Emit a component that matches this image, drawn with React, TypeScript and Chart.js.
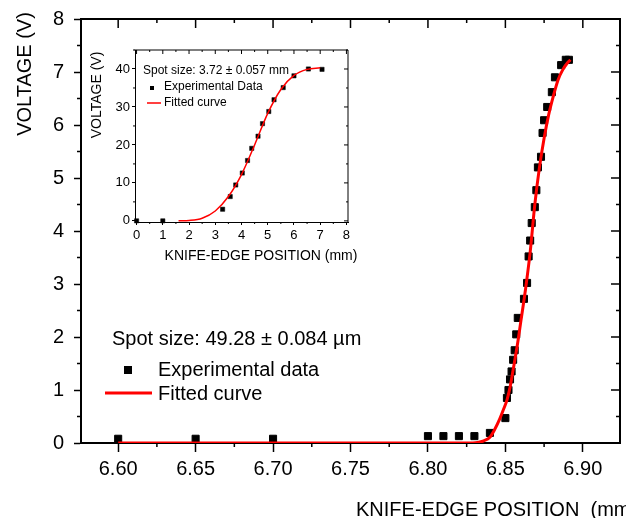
import React, { useEffect, useRef } from "react";
import { Chart, registerables } from "chart.js";

Chart.register(...registerables);

const FONT = "'Liberation Sans', Arial, Helvetica, sans-serif";

// ---------- main chart data ----------
const mainExpX = [
  6.6, 6.65, 6.7, 6.8, 6.81, 6.82, 6.83, 6.84, 6.85, 6.851, 6.852, 6.853, 6.854,
  6.855, 6.856, 6.857, 6.858, 6.862, 6.864, 6.865, 6.866, 6.867, 6.869, 6.870,
  6.871, 6.873, 6.874, 6.875, 6.877, 6.880, 6.882, 6.886, 6.889, 6.891,
];
const mainExpY = [
  0.08, 0.08, 0.08, 0.13, 0.13, 0.13, 0.13, 0.19, 0.47, 0.85, 1.0, 1.2, 1.35,
  1.57, 1.75, 2.05, 2.36, 2.72, 3.02, 3.52, 3.82, 4.15, 4.45, 4.77,
  5.2, 5.4, 5.85, 6.09, 6.34, 6.62, 6.9, 7.13, 7.23, 7.23,
];
const mainFitX = [
  6.6, 6.65, 6.7, 6.75, 6.8, 6.825, 6.832, 6.836, 6.84, 6.843, 6.846, 6.849,
  6.851, 6.853, 6.855, 6.858, 6.86, 6.863, 6.866, 6.869, 6.872, 6.875, 6.878,
  6.881, 6.884, 6.887, 6.89, 6.892,
];
const mainFitY = [
  0, 0, 0, 0, 0, 0, 0.01, 0.04, 0.11, 0.25, 0.43, 0.65,
  0.81, 1.05, 1.38, 1.9, 2.3, 2.9, 3.6, 4.5, 5.2, 5.75, 6.2,
  6.55, 6.85, 7.04, 7.17, 7.23,
];
const mainXTicks = [6.6, 6.65, 6.7, 6.75, 6.8, 6.85, 6.9];
const mainYTicks = [0, 1, 2, 3, 4, 5, 6, 7, 8];

// ---------- inset data ----------
const insetExpX = [0, 1, 3.28, 3.57, 3.78, 4.03, 4.23, 4.39, 4.63, 4.8, 5.04, 5.24, 5.59, 6.0, 6.55, 7.07];
const insetExpY = [0, 0, 3.06, 6.4, 9.45, 12.6, 15.9, 19.1, 22.3, 25.6, 28.8, 31.9, 35.1, 38.2, 40.0, 39.9];
const insetFitX = [1.6, 2.0, 2.5, 3.0, 3.5, 4.0, 4.5, 5.0, 5.5, 6.0, 6.5, 7.0];
const insetFitY = [0, 0.1, 0.7, 2.6, 6.4, 12.2, 20.0, 28.3, 34.6, 38.3, 39.9, 40.3];
const insetXTicks = [0, 1, 2, 3, 4, 5, 6, 7, 8];
const insetYTicks = [0, 10, 20, 30, 40];

// ---------- texts ----------
const mainXTitle = "KNIFE-EDGE POSITION  (mm)";
const mainYTitle = "VOLTAGE (V)";
const mainSpot = "Spot size: 49.28 \u00B1 0.084 \u00B5m";
const mainExpLabel = "Experimental data";
const mainFitLabel = "Fitted curve";
const insetXTitle = "KNIFE-EDGE POSITION (mm)";
const insetYTitle = "VOLTAGE (V)";
const insetSpot = "Spot size: 3.72 \u00B1 0.057 mm";
const insetExpLabel = "Experimental Data";
const insetFitLabel = "Fitted curve";

const pts = (xs: number[], ys: number[]) => xs.map((x, i) => ({ x, y: ys[i] }));

function minorValues(majors: number[], min: number, max: number) {
  const step = majors[1] - majors[0];
  const out: number[] = [];
  for (let v = majors[0] - step / 2; v >= min; v -= step) out.push(v);
  for (let i = 0; i < majors.length - 1; i++) out.push((majors[i] + majors[i + 1]) / 2);
  for (let v = majors[majors.length - 1] + step / 2; v <= max; v += step) out.push(v);
  return out;
}

type DecorCfg = {
  id: string;
  frameWidth: number;
  tickWidth: number;
  major: number;
  minor: number;
  xTicks: number[];
  yTicks: number[];
  draw: (ctx: CanvasRenderingContext2D, chart: any) => void;
};

function makeDecor(cfg: DecorCfg) {
  return {
    id: cfg.id,
    afterDraw(chart: any) {
      const { ctx, chartArea: a } = chart;
      const xs = chart.scales.x;
      const ys = chart.scales.y;
      ctx.save();
      ctx.strokeStyle = "#000";
      ctx.lineWidth = cfg.frameWidth;
      ctx.beginPath();
      ctx.moveTo(a.left - cfg.frameWidth / 2, a.top);
      ctx.lineTo(a.right, a.top);
      ctx.lineTo(a.right, a.bottom + cfg.frameWidth / 2);
      ctx.stroke();

      ctx.lineWidth = cfg.tickWidth;
      ctx.beginPath();
      const xMin = minorValues(cfg.xTicks, xs.min, xs.max);
      const yMin = minorValues(cfg.yTicks, ys.min, ys.max);
      for (const v of cfg.xTicks) {
        const p = xs.getPixelForValue(v);
        ctx.moveTo(p, a.top);
        ctx.lineTo(p, a.top + cfg.major);
      }
      for (const v of xMin) {
        const p = xs.getPixelForValue(v);
        ctx.moveTo(p, a.top);
        ctx.lineTo(p, a.top + cfg.minor);
        ctx.moveTo(p, a.bottom);
        ctx.lineTo(p, a.bottom + cfg.minor);
      }
      for (const v of cfg.yTicks) {
        const p = ys.getPixelForValue(v);
        ctx.moveTo(a.right, p);
        ctx.lineTo(a.right - cfg.major, p);
      }
      for (const v of yMin) {
        const p = ys.getPixelForValue(v);
        ctx.moveTo(a.right, p);
        ctx.lineTo(a.right - cfg.minor, p);
        ctx.moveTo(a.left, p);
        ctx.lineTo(a.left - cfg.minor, p);
      }
      ctx.stroke();
      cfg.draw(ctx, chart);
      ctx.restore();
    },
  };
}

const fixTicks = (vals: number[]) => (s: any) => {
  s.ticks = vals.map((v) => ({ value: v }));
};
const noPad = (s: any) => {
  s.paddingTop = 0;
  s.paddingBottom = 0;
  s.paddingLeft = 0;
  s.paddingRight = 0;
};

export default function App() {
  const mainRef = useRef<HTMLCanvasElement>(null);
  const insetRef = useRef<HTMLCanvasElement>(null);

  useEffect(() => {
    const mainDecor = makeDecor({
      id: "mainDecor",
      frameWidth: 2,
      tickWidth: 1.5,
      major: 9,
      minor: 4,
      xTicks: mainXTicks,
      yTicks: mainYTicks,
      draw: (ctx) => {
        ctx.fillStyle = "#000";
        ctx.font = `20px ${FONT}`;
        ctx.textBaseline = "alphabetic";
        ctx.textAlign = "left";
        ctx.fillText(mainXTitle, 356, 516);
        ctx.fillText(mainSpot, 112, 345);
        ctx.fillText(mainExpLabel, 158, 376);
        ctx.fillText(mainFitLabel, 158, 400);
        ctx.fillRect(124, 366, 8, 8);
        ctx.strokeStyle = "#ff0000";
        ctx.lineWidth = 3;
        ctx.beginPath();
        ctx.moveTo(105, 393);
        ctx.lineTo(152, 393);
        ctx.stroke();
        ctx.save();
        ctx.translate(25, 74);
        ctx.rotate(-Math.PI / 2);
        ctx.textAlign = "center";
        ctx.textBaseline = "middle";
        ctx.fillText(mainYTitle, 0, 0);
        ctx.restore();
      },
    });

    const main = new Chart(mainRef.current as HTMLCanvasElement, {
      type: "scatter",
      data: {
        datasets: [
          {
            type: "line",
            label: mainFitLabel,
            data: pts(mainFitX, mainFitY),
            borderColor: "#ff0000",
            backgroundColor: "#ff0000",
            borderWidth: 3,
            pointRadius: 0,
            cubicInterpolationMode: "monotone",
            fill: false,
            order: 0,
          } as any,
          {
            label: mainExpLabel,
            data: pts(mainExpX, mainExpY),
            pointStyle: "rect",
            pointRadius: 5,
            backgroundColor: "#000",
            borderColor: "#000",
            borderWidth: 1,
            clip: false,
            order: 1,
          } as any,
        ],
      },
      options: {
        responsive: false,
        animation: false,
        events: [],
        layout: { padding: { left: 0, top: 19, right: 1, bottom: 0 } },
        plugins: { legend: { display: false }, tooltip: { enabled: false } },
        scales: {
          x: {
            type: "linear",
            min: 6.576,
            max: 6.924,
            afterBuildTicks: fixTicks(mainXTicks),
            afterFit: (s: any) => {
              s.height = 75;
              noPad(s);
            },
            border: { display: true, color: "#000", width: 2 },
            grid: { display: true, drawOnChartArea: false, drawTicks: true, tickLength: 9, tickColor: "#000", tickWidth: 1.5 },
            ticks: {
              color: "#000",
              font: { family: FONT, size: 20 },
              padding: 5,
              maxRotation: 0,
              autoSkip: false,
              callback: (v: any) => Number(v).toFixed(2),
            },
          },
          y: {
            type: "linear",
            min: 0,
            max: 8,
            afterBuildTicks: fixTicks(mainYTicks),
            afterFit: (s: any) => {
              s.width = 81;
              noPad(s);
            },
            border: { display: true, color: "#000", width: 2 },
            grid: { display: true, drawOnChartArea: false, drawTicks: true, tickLength: 7, tickColor: "#000", tickWidth: 1.5 },
            ticks: {
              color: "#000",
              font: { family: FONT, size: 20 },
              padding: 10,
              autoSkip: false,
              callback: (v: any) => String(Math.round(Number(v))),
            },
          },
        },
      },
      plugins: [mainDecor],
    } as any);

    const OX = 85;
    const OY = 35;
    const insetDecor = makeDecor({
      id: "insetDecor",
      frameWidth: 1,
      tickWidth: 1,
      major: 4,
      minor: 2,
      xTicks: insetXTicks,
      yTicks: insetYTicks,
      draw: (ctx) => {
        ctx.fillStyle = "#000";
        ctx.textAlign = "left";
        ctx.textBaseline = "middle";
        ctx.font = `12px ${FONT}`;
        ctx.fillText(insetSpot, 143 - OX, 71 - OY);
        ctx.fillText(insetExpLabel, 164 - OX, 87 - OY);
        ctx.fillText(insetFitLabel, 164 - OX, 103 - OY);
        ctx.fillRect(150 - OX, 86 - OY, 4, 4);
        ctx.strokeStyle = "#ff0000";
        ctx.lineWidth = 1.5;
        ctx.beginPath();
        ctx.moveTo(147 - OX, 103 - OY);
        ctx.lineTo(161 - OX, 103 - OY);
        ctx.stroke();
        ctx.font = `14px ${FONT}`;
        ctx.textAlign = "center";
        ctx.fillText(insetXTitle, 261 - OX, 256 - OY);
        ctx.save();
        ctx.translate(97 - OX, 95 - OY);
        ctx.rotate(-Math.PI / 2);
        ctx.fillText(insetYTitle, 0, 0);
        ctx.restore();
      },
    });

    const inset = new Chart(insetRef.current as HTMLCanvasElement, {
      type: "scatter",
      data: {
        datasets: [
          {
            type: "line",
            label: insetFitLabel,
            data: pts(insetFitX, insetFitY),
            borderColor: "#ff0000",
            borderWidth: 1.5,
            pointRadius: 0,
            cubicInterpolationMode: "monotone",
            fill: false,
            order: 0,
          } as any,
          {
            label: insetExpLabel,
            data: pts(insetExpX, insetExpY),
            pointStyle: "rect",
            pointRadius: 3,
            backgroundColor: "#000",
            borderColor: "#000",
            borderWidth: 0.5,
            clip: false,
            order: 1,
          } as any,
        ],
      },
      options: {
        responsive: false,
        animation: false,
        events: [],
        layout: { padding: { left: 0, top: 15, right: 17, bottom: 0 } },
        plugins: { legend: { display: false }, tooltip: { enabled: false } },
        scales: {
          x: {
            type: "linear",
            min: -0.06,
            max: 8.06,
            afterBuildTicks: fixTicks(insetXTicks),
            afterFit: (s: any) => {
              s.height = 48;
              noPad(s);
            },
            border: { display: true, color: "#000", width: 1 },
            grid: { display: true, drawOnChartArea: false, drawTicks: true, tickLength: 3, tickColor: "#000", tickWidth: 1 },
            ticks: {
              color: "#000",
              font: { family: FONT, size: 13 },
              padding: 3,
              maxRotation: 0,
              autoSkip: false,
              callback: (v: any) => String(Math.round(Number(v))),
            },
          },
          y: {
            type: "linear",
            min: -0.3,
            max: 45,
            afterBuildTicks: fixTicks(insetYTicks),
            afterFit: (s: any) => {
              s.width = 50;
              noPad(s);
            },
            border: { display: true, color: "#000", width: 1 },
            grid: { display: true, drawOnChartArea: false, drawTicks: true, tickLength: 3, tickColor: "#000", tickWidth: 1 },
            ticks: {
              color: "#000",
              font: { family: FONT, size: 13 },
              padding: 2,
              autoSkip: false,
              callback: (v: any) => String(Math.round(Number(v))),
            },
          },
        },
      },
      plugins: [insetDecor],
    } as any);

    return () => {
      main.destroy();
      inset.destroy();
    };
  }, []);

  return (
    <div
      style={{
        position: "absolute",
        left: 0,
        top: 0,
        width: 626,
        height: 518,
        overflow: "hidden",
        background: "#fff",
      }}
    >
      <canvas
        ref={mainRef}
        width={626}
        height={518}
        style={{ position: "absolute", left: 0, top: 0, width: 626, height: 518, display: "block" }}
      />
      <canvas
        ref={insetRef}
        width={280}
        height={235}
        style={{ position: "absolute", left: 85, top: 35, width: 280, height: 235, display: "block" }}
      />
    </div>
  );
}
